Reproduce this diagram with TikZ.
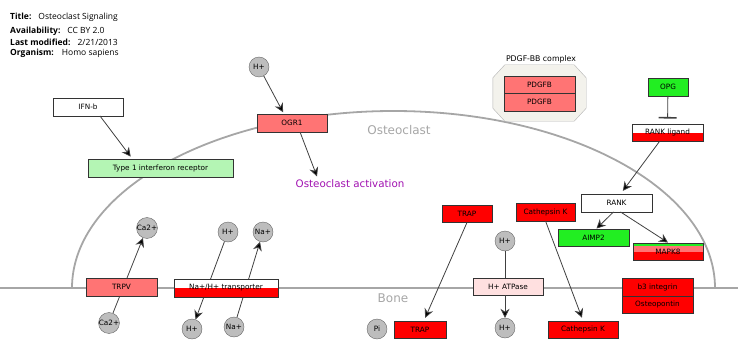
\documentclass[tikz,border=0pt]{standalone}
\usepackage{fontspec}
\setmainfont{DejaVu Sans}
\newfontfamily\hdrfont{Open Sans}
\usetikzlibrary{arrows.meta,graphs}
\definecolor{salmon}{HTML}{FF7474}
\definecolor{gred}{HTML}{FF0000}
\definecolor{ggreen}{HTML}{22EE22}
\definecolor{lgreen}{HTML}{B4F5B4}
\definecolor{lpink}{HTML}{FFE0E0}
\definecolor{metab}{HTML}{BDBDBD}
\definecolor{memb}{HTML}{A6A6A6}
\definecolor{actpurple}{HTML}{A010B0}
\definecolor{cplx}{HTML}{F3F2EC}

\begin{document}
\begin{tikzpicture}[x=1pt,y=-1pt]
	\tikzstyle{every node}=[font=\fontsize{7.3}{8}\selectfont];
	\tikzstyle{gp}=[draw=black!80,rectangle,align=center,inner sep=0pt,minimum height=17.5pt];
	\tikzstyle{mtb}=[draw=black!60,circle,fill=metab,inner sep=0pt,minimum size=20pt];
	\tikzstyle{halfred}=[fill=white,path picture={\fill[gred] (path picture bounding box.west) rectangle (path picture bounding box.south east);}];
	\tikzstyle{tri}=[fill=gred,path picture={\fill[ggreen] (path picture bounding box.north west) rectangle ([yshift=-3.5pt]path picture bounding box.north east); \fill[salmon] ([yshift=-3.5pt]path picture bounding box.north west) rectangle (path picture bounding box.east);}];
	\tikzstyle{lbl}=[text=memb,font=\fontsize{12}{14}\selectfont];
	\tikzstyle{pth}=[draw=black!75,line width=0.8pt,-{Stealth[length=9pt,width=9pt,fill=black]}];
	\tikzstyle{ln}=[draw=black!75,line width=0.8pt];
	\tikzstyle{hdr}=[anchor=west,inner sep=0pt,font=\hdrfont\fontsize{8.5}{9}\selectfont];
	\useasboundingbox (0,0) rectangle (738,342);
	% header
	\node[hdr] (title) at (10,17) {\textbf{Title:}\hspace{7pt}Osteoclast Signaling};
	\node[hdr] (avail) at (10,31.5) {\textbf{Availability:}\hspace{7pt}CC BY 2.0};
	\node[hdr] (modif) at (10,42.5) {\textbf{Last modified:}\hspace{7pt}2/21/2013};
	\node[hdr] (organ) at (10,53.5) {\textbf{Organism:}\hspace{8pt}Homo sapiens};
	% membranes
	\draw[memb,line width=1.8pt] (0,288) -- (738,288);
	\draw[memb,line width=1.8pt] (72,288) arc[start angle=180,end angle=0,x radius=321.5pt,y radius=177pt];
	\node[lbl] (oclab) at (399,130) {Osteoclast};
	\node[lbl] (bonelab) at (393,298) {Bone};
	\node[text=actpurple,font=\fontsize{10.3}{12}\selectfont] (act) at (350,184) {Osteoclast activation};
	% metabolites
	\node[mtb] (hp1) at (259,67) {H+};
	\node[mtb] (cat) at (147,228) {Ca2+};
	\node[mtb] (cab) at (109,323) {Ca2+};
	\node[mtb] (hpt) at (228,232) {H+};
	\node[mtb] (hpb) at (192,329) {H+};
	\node[mtb] (nat) at (263,232) {Na+};
	\node[mtb] (nab) at (234,327) {Na+};
	\node[mtb] (hp2) at (505,241) {H+};
	\node[mtb] (hp3) at (505,328) {H+};
	\node[mtb] (pi) at (377,329) {Pi};
	\graph [use existing nodes,edges={pth}]{
		cab -> cat;
		hpt -> hpb;
		nab -> nat;
	};
	% complex
	\node[minimum width=93pt,minimum height=56pt,inner sep=0pt] (pdgfc) at (539.5,93) {};
	\draw[draw=black!30,fill=cplx] ([xshift=12pt]pdgfc.north west) -- ([xshift=-12pt]pdgfc.north east)
		-- ([yshift=-13pt]pdgfc.north east) -- ([yshift=13pt]pdgfc.south east)
		-- ([xshift=-12pt]pdgfc.south east) -- ([xshift=12pt]pdgfc.south west)
		-- ([yshift=13pt]pdgfc.south west) -- ([yshift=-13pt]pdgfc.north west) -- cycle;
	\node[font=\fontsize{7.8}{9}\selectfont] (pdgflab) at (541,59) {PDGF-BB complex};
	% gene products
	\node[gp,minimum width=70pt,fill=white] (ifnb) at (88,107) {IFN-b};
	\node[gp,minimum width=145pt,fill=lgreen] (t1ir) at (160.5,168) {Type 1 interferon receptor};
	\node[gp,minimum width=70pt,fill=salmon] (ogr1) at (292,123) {OGR1};
	\node[gp,minimum width=71pt,fill=salmon] (pdgfb1) at (539.5,84.5) {PDGFB};
	\node[gp,minimum width=71pt,fill=salmon] (pdgfb2) at (539.5,102) {PDGFB};
	\node[gp,minimum width=40pt,fill=ggreen] (opg) at (668,87) {OPG};
	\node[gp,minimum width=71pt,halfred] (rankl) at (667.5,132.5) {RANK ligand};
	\node[gp,minimum width=71pt,fill=white] (rank) at (616.5,203) {RANK};
	\node[gp,minimum width=71pt,fill=ggreen] (aimp2) at (593.5,237.5) {AIMP2};
	\node[gp,minimum width=70pt,tri] (mapk8) at (668,251.5) {MAPK8};
	\node[gp,minimum width=50pt,fill=gred] (trap1) at (467,213.5) {TRAP};
	\node[gp,minimum width=59pt,fill=gred] (catk1) at (545.5,212) {Cathepsin K};
	\node[gp,minimum width=70pt,fill=lpink] (atpase) at (508,286.5) {H+ ATPase};
	\node[gp,minimum width=70pt,fill=gred] (catk2) at (583,329.5) {Cathepsin K};
	\node[gp,minimum width=71pt,fill=gred] (b3) at (657.5,287) {b3 integrin};
	\node[gp,minimum width=71pt,fill=gred] (osteo) at (657.5,304.5) {Osteopontin};
	\node[gp,minimum width=52pt,fill=gred] (trap2) at (420,329.5) {TRAP};
	\node[gp,minimum width=71pt,fill=salmon] (trpv) at (121.5,287) {TRPV};
	\node[gp,minimum width=104pt,halfred] (nhx) at (226,288) {Na+/H+ transporter};
	% interactions
	\draw[pth,shorten >=3pt] ([xshift=12pt]ifnb.south) -- ([xshift=-28pt]t1ir.north);
	\draw[pth,shorten >=2pt] (hp1) -- ([xshift=-8pt]ogr1.north);
	\draw[pth] ([xshift=8pt]ogr1.south) -- ([xshift=-33pt]act.north);
	\draw[ln,-{Bar[width=18pt,line width=1.6pt]},shorten >=5pt] (opg) -- (rankl.north);
	\draw[pth,shorten >=4pt] ([xshift=-8pt]rankl.south) -- ([xshift=4pt]rank.north);
	\draw[pth] ([xshift=-3pt]rank.south) -- ([xshift=3pt]aimp2.north);
	\draw[pth] ([xshift=4pt]rank.south) -- (mapk8.north);
	\draw[pth,shorten >=3pt] (trap1.south) -- ([xshift=4pt]trap2.north);
	\draw[pth,shorten >=3pt] (catk1.south) -- (catk2.north);
	\draw[ln] (hp2) -- (hp2 |- atpase.north);
	\draw[pth] (hp2 |- atpase.south) -- (hp3);
\end{tikzpicture}
\end{document}
